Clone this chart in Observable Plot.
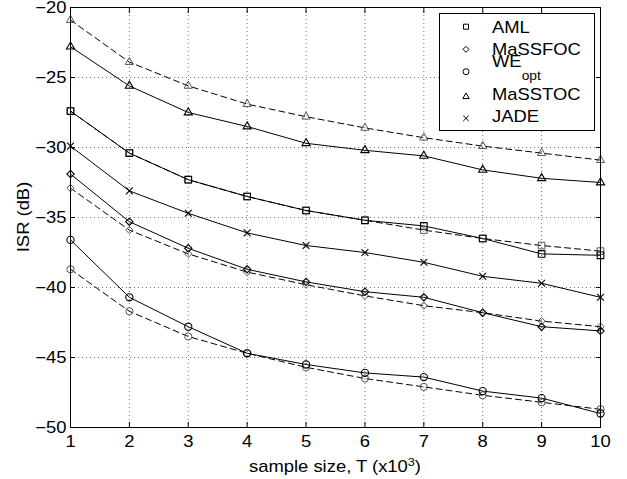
<!DOCTYPE html>
<html>
<head>
<meta charset="utf-8">
<script src="https://cdn.jsdelivr.net/npm/d3@7"></script>
<script src="https://cdn.jsdelivr.net/npm/@observablehq/plot@0.6"></script>
<style>
  body { margin: 0; background: #fff; }
  #chart svg { display: block; overflow: visible; }
</style>
</head>
<body>
<div id="chart"></div>
<script>
// Sample size T (x10^3) and axis ticks
const T = [1, 2, 3, 4, 5, 6, 7, 8, 9, 10];
const xTicks = [1, 2, 3, 4, 5, 6, 7, 8, 9, 10];
const yTicks = [-50, -45, -40, -35, -30, -25, -20];

// ISR (dB) per method; solid and dashed curves
const amlSolid       = [-27.4, -30.4, -32.3, -33.5, -34.5, -35.2, -35.6, -36.5, -37.6, -37.7];
const amlDashed      = [-27.4, -30.4, -32.3, -33.5, -34.5, -35.2, -35.9, -36.5, -37.0, -37.4];
const massfocSolid   = [-31.9, -35.3, -37.2, -38.7, -39.6, -40.3, -40.7, -41.8, -42.8, -43.1];
const massfocDashed  = [-32.9, -35.9, -37.6, -38.9, -39.8, -40.6, -41.3, -41.8, -42.4, -42.8];
const weSolid        = [-36.6, -40.7, -42.8, -44.7, -45.5, -46.1, -46.4, -47.4, -47.9, -49.0];
const weDashed       = [-38.7, -41.7, -43.5, -44.7, -45.7, -46.5, -47.1, -47.7, -48.2, -48.7];
const masstocSolid   = [-22.8, -25.6, -27.5, -28.5, -29.7, -30.2, -30.6, -31.6, -32.2, -32.5];
const masstocDashed  = [-20.9, -23.9, -25.6, -26.9, -27.8, -28.6, -29.3, -29.9, -30.4, -30.9];
const jadeSolid      = [-29.9, -33.1, -34.7, -36.1, -37.0, -37.5, -38.2, -39.2, -39.7, -40.7];

const methods = ["AML", "MaSSFOC", "WE_opt", "MaSSTOC", "JADE"];

const series = [
  {method: "AML", style: "solid", values: amlSolid},
  {method: "AML", style: "dashed", values: amlDashed},
  {method: "MaSSFOC", style: "solid", values: massfocSolid},
  {method: "MaSSFOC", style: "dashed", values: massfocDashed},
  {method: "WE_opt", style: "solid", values: weSolid},
  {method: "WE_opt", style: "dashed", values: weDashed},
  {method: "MaSSTOC", style: "solid", values: masstocSolid},
  {method: "MaSSTOC", style: "dashed", values: masstocDashed},
  {method: "JADE", style: "solid", values: jadeSolid}
];

const rows = series.flatMap(s =>
  s.values.map((v, i) => ({T: T[i], isr: v, method: s.method, style: s.style, key: s.method + "-" + s.style}))
);

// marker shape and radius for each method
const markerSymbol = {AML: "square2", MaSSFOC: "diamond2", WE_opt: "circle", MaSSTOC: "triangle2", JADE: "times"};
const markerR = {AML: 4.2, MaSSFOC: 3.3, WE_opt: 3.6, MaSSTOC: 3.9, JADE: 3.2};

const font = "'Liberation Sans', Arial, Helvetica, sans-serif";
const fontSize = 16;
const stretch = 1.15; // wide Helvetica-like lettering

const markerMarks = methods.flatMap(m => [
  Plot.dot(rows.filter(d => d.method === m && d.style === "dashed"), {
    x: "T", y: "isr", symbol: markerSymbol[m], r: markerR[m],
    fill: "none", stroke: "#555", strokeWidth: 1
  }),
  Plot.dot(rows.filter(d => d.method === m && d.style === "solid"), {
    x: "T", y: "isr", symbol: markerSymbol[m], r: markerR[m],
    fill: "none", stroke: "#000", strokeWidth: 1.1
  })
]);

const chart = Plot.plot({
  width: 627,
  height: 479,
  marginLeft: 70,
  marginRight: 27,
  marginTop: 7,
  marginBottom: 52,
  style: {fontFamily: font, fontSize: fontSize + "px", color: "#000", background: "#fff", overflow: "visible"},
  x: {domain: [1, 10]},
  y: {domain: [-50, -20]},
  marks: [
    Plot.gridX(xTicks, {stroke: "#000", strokeOpacity: 0.55, strokeDasharray: "1,3"}),
    Plot.gridY(yTicks, {stroke: "#000", strokeOpacity: 0.55, strokeDasharray: "1,3"}),
    Plot.line(rows.filter(d => d.style === "dashed"), {
      x: "T", y: "isr", z: "key", stroke: "#000", strokeWidth: 1, strokeDasharray: "6,4"
    }),
    Plot.line(rows.filter(d => d.style === "solid"), {
      x: "T", y: "isr", z: "key", stroke: "#000", strokeWidth: 1
    }),
    ...markerMarks,
    Plot.axisX(xTicks, {anchor: "bottom", tickSize: -5, tickPadding: 13, label: null}),
    Plot.axisX(xTicks, {anchor: "top", tickSize: -5, tickFormat: () => "", label: null}),
    Plot.axisY(yTicks, {anchor: "left", tickSize: -5, tickPadding: 9, label: null}),
    Plot.axisY(yTicks, {anchor: "right", tickSize: -5, tickFormat: () => "", label: null}),
    Plot.frame({stroke: "#000", strokeWidth: 1})
  ]
});

document.getElementById("chart").appendChild(chart);

const svg = d3.select(chart);

// widen the tick lettering about each label's anchor
svg.selectAll("text").each(function() {
  const tr = this.getAttribute("transform") || "";
  this.setAttribute("transform", (tr + ` scale(${stretch},1)`).trim());
});

function label(g, tx, ty, extra = "") {
  return g.append("text")
    .attr("transform", `translate(${tx},${ty}) ${extra} scale(${stretch},1)`)
    .attr("text-anchor", "start")
    .style("font-family", font).style("font-size", fontSize + "px").attr("fill", "#000");
}

// axis titles
const xt = label(svg, 335, 472).attr("text-anchor", "middle");
xt.append("tspan").text("sample size, T (x10");
xt.append("tspan").attr("dy", -6).style("font-size", "11px").text("3");
xt.append("tspan").attr("dy", 6).text(")");

label(svg, 29, 217, "rotate(-90)").attr("text-anchor", "middle").text("ISR (dB)");

// legend box
const legend = svg.append("g");
legend.append("rect")
  .attr("x", 439.5).attr("y", 13.5).attr("width", 155).attr("height", 117)
  .attr("fill", "#fff").attr("stroke", "#000").attr("stroke-width", 1);

const legendRows = [
  {method: "AML", my: 26.7, ty: 33.3},
  {method: "MaSSFOC", my: 49.3, ty: 55},
  {method: "WE_opt", my: 71.7, ty: 66.7},
  {method: "MaSSTOC", my: 96.7, ty: 100},
  {method: "JADE", my: 118.3, ty: 121.7}
];
const d3Symbol = {AML: d3.symbolSquare2, MaSSFOC: d3.symbolDiamond2, WE_opt: d3.symbolCircle, MaSSTOC: d3.symbolTriangle2, JADE: d3.symbolTimes};
const legendR = {AML: 3.2, MaSSFOC: 2.7, WE_opt: 3.0, MaSSTOC: 3.1, JADE: 2.6};

legendRows.forEach(r => {
  legend.append("path")
    .attr("d", d3.symbol(d3Symbol[r.method], Math.PI * legendR[r.method] ** 2)())
    .attr("transform", `translate(466,${r.my})`)
    .attr("fill", "none").attr("stroke", "#000").attr("stroke-width", 1);
  const t = label(legend, 492, r.ty);
  if (r.method === "WE_opt") {
    t.append("tspan").text("WE");
    t.append("tspan").attr("dy", 13.3).style("font-size", "12px").text("opt");
  } else {
    t.text(r.method);
  }
});
</script>
</body>
</html>
